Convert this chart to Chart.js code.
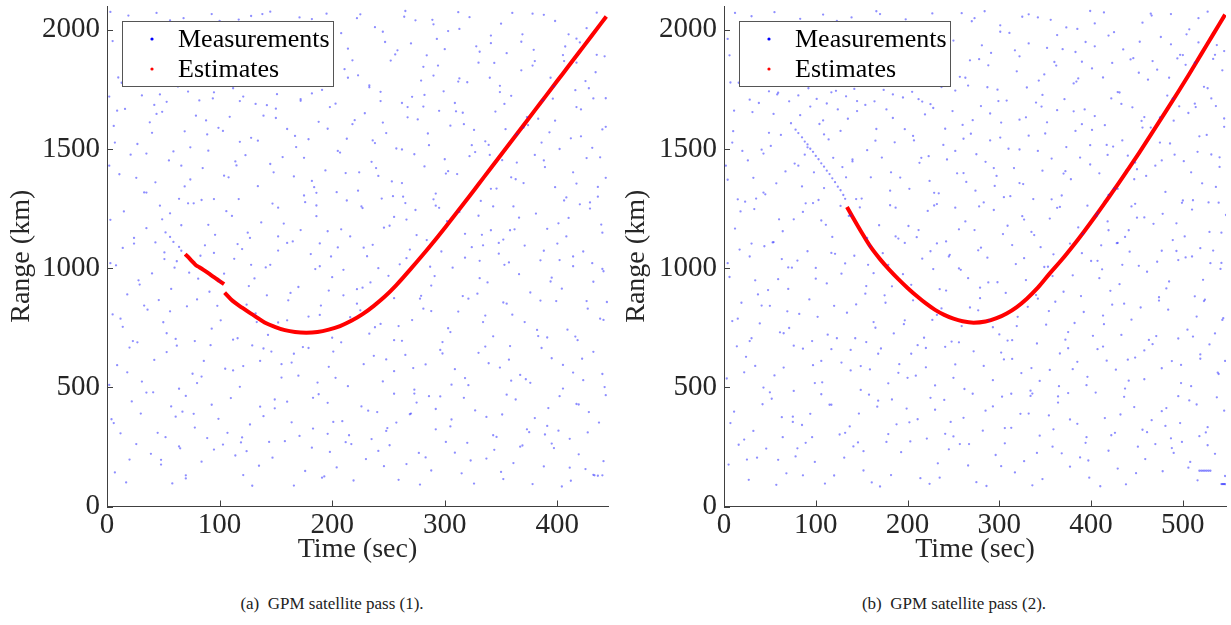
<!DOCTYPE html>
<html>
<head>
<meta charset="utf-8">
<script src="https://cdn.jsdelivr.net/npm/chart.js@4.4.1/dist/chart.umd.min.js"></script>
<style>
  body { margin: 0; background: #fff; width: 1231px; height: 625px; overflow: hidden; position: relative; font-family: "Liberation Serif", "Times New Roman", serif; }
  .panel { position: absolute; top: 0; }
  #p1 { left: 0; }
  #p2 { left: 615px; }
  .cap { position: absolute; top: 594px; font-size: 17px; color: #222; text-align: center; white-space: pre; }
</style>
</head>
<body>
<div class="panel" id="p1"><canvas id="c1" width="615" height="580"></canvas></div>
<div class="panel" id="p2"><canvas id="c2" width="616" height="580"></canvas></div>
<div class="cap" style="left:232px;width:200px">(a)  GPM satellite pass (1).</div>
<div class="cap" style="left:854px;width:200px">(b)  GPM satellite pass (2).</div>
<script>
// подписи
const seriesLabels = ['Measurements', 'Estimates'];
const xTitle = 'Time (sec)';
const yTitle = 'Range (km)';
const yTicks = [0, 500, 1000, 1500, 2000];
const xTicks1 = [0, 100, 200, 300, 400];
const xTicks2 = [0, 100, 200, 300, 400, 500];

// оценки, проход 1 (null = разрыв трека)
const est1Time = [69.5, 72, 75, 77, 79, 82, 86, 90, 95, 100, 104, 104.3, 104.5, 110, 120, 131, 140, 149, 158, 167, 177, 187, 197, 207, 217, 227, 237, 247, 257, 270, 280, 290, 300, 310, 320, 330, 340, 350, 360, 370, 380, 390, 400, 410, 420, 430, 443.5];
const est1Range = [1059, 1047, 1032, 1022, 1012, 1004, 992, 979, 962, 946, 933, null, 897, 870, 834, 800, 772, 754, 740, 732, 729, 732, 742, 757, 779, 807, 842, 882, 929, 998, 1053, 1110, 1169, 1229, 1290, 1352, 1414, 1476, 1538, 1600, 1662, 1724, 1786, 1848, 1910, 1972, 2056];

// оценки, проход 2
const est2Time = [134, 140, 150, 160, 170, 180, 190, 200, 210, 220, 230, 240, 250, 260, 272, 285, 297, 308, 319, 330, 342, 355, 368, 380, 392, 405, 417, 428, 440, 452, 465, 483, 495, 507, 520, 533, 546];
const est2Range = [1257, 1216, 1150, 1088, 1038, 994, 954, 917, 883, 852, 825, 804, 788, 777, 771, 776, 790, 810, 837, 872, 918, 978, 1035, 1092, 1152, 1220, 1285, 1345, 1413, 1482, 1559, 1667, 1740, 1815, 1898, 1981, 2064];

// измерения (помехи), проход 1: [время, дальность]
const meas1 = [
  [7,143],[39,221],[58,97],[84,188],[103,260],[121,132],[147,205],[166,88],[182,247],[204,164],[219,109],[241,233],[266,178],[278,92],[301,271],[315,139],[337,201],[352,115],[369,256],[388,168],[404,84],[419,219],[433,131],[26,262],[70,118],[95,239],[135,171],[158,274],[193,126],[230,199],[251,257],[288,151],[326,96],[344,238],[361,182],[395,264],[412,108],[441,190],[17,101],[48,176],[114,214],[176,149],[212,270],[259,112],[309,226],[378,94],[425,157],[440,131],[432,133],[436,129],[64,252],[129,87],[198,229],[283,206],[350,145],
  [4,366],[22,441],[45,309],[67,398],[89,287],[110,455],[127,344],[149,412],[171,296],[188,471],[209,358],[226,420],[248,317],[269,387],[286,463],[305,336],[327,403],[346,292],[363,449],[380,371],[401,318],[417,430],[437,352],[35,478],[78,331],[139,379],[196,435],[235,283],[292,409],[355,469],[389,302],[428,396],[12,307],[57,420],[99,368],[160,440],[215,299],[257,352],[317,456],[373,324],[443,467],[240,396],[120,290],[183,327],[337,376],[411,284],[70,464],[275,436],[30,390],
  [9,593],[31,524],[53,648],[76,557],[92,677],[118,502],[136,611],[155,541],[174,669],[197,586],[214,505],[237,632],[255,568],[273,490],[296,657],[318,539],[339,601],[358,673],[376,519],[395,622],[414,562],[432,649],[442,501],[20,667],[64,494],[105,578],[146,650],[187,520],[228,597],[265,636],[306,511],[349,583],[386,665],[423,530],[42,615],[84,545],[164,604],[245,525],[330,645],[405,495],[2,510],[129,676],[201,650],[283,596],[367,552],
  [14,754],[36,826],[61,703],[80,869],[101,781],[124,847],[143,720],[161,865],[179,797],[200,708],[222,851],[243,766],[262,695],[281,830],[303,748],[321,872],[343,714],[360,805],[382,741],[399,862],[418,698],[438,788],[27,689],[50,773],[71,840],[112,700],[152,772],[190,843],[233,725],[271,782],[312,818],[352,856],[391,709],[427,830],[5,806],[93,746],[216,794],[298,690],[371,774],[444,858],[132,810],[255,874],[334,774],[409,742],[46,866],
  [8,1012],[29,931],[51,1066],[73,981],[91,901],[113,1039],[131,957],[152,1074],[170,921],[189,1008],[210,886],[231,1050],[250,968],[269,1078],[288,927],[307,1002],[329,893],[348,1061],[366,975],[385,1033],[404,914],[423,1070],[441,987],[18,890],[62,1029],[100,947],[141,1003],[181,1059],[222,912],[260,1016],[297,1070],[338,940],[376,898],[414,1008],[40,978],[120,1080],[200,962],[279,884],[357,1024],[432,943],[83,1052],[163,896],[241,1000],[318,1044],[395,960],
  [52,1150],[56,1131],[59,1110],[64,1089],[66,1073],
  [3,1203],[24,1127],[47,1262],[66,1180],[87,1096],[106,1239],[125,1149],[147,1271],[165,1112],[186,1218],[205,1087],[227,1252],[246,1170],[265,1273],[284,1118],[302,1197],[324,1088],[343,1259],[362,1163],[381,1229],[400,1103],[420,1268],[439,1183],[14,1085],[56,1230],[96,1140],[137,1192],[176,1277],[216,1133],[255,1215],[292,1262],[333,1140],[371,1095],[410,1211],[35,1168],[116,1101],[196,1155],[274,1244],[352,1120],[429,1250],[77,1272],[157,1187],[236,1098],[313,1236],[391,1165],
  [11,1394],[33,1318],[55,1452],[74,1372],[95,1290],[115,1431],[134,1344],[156,1466],[175,1305],[194,1410],[213,1284],[235,1446],[253,1364],[273,1478],[292,1313],[311,1395],[332,1282],[351,1453],[370,1357],[389,1424],[408,1297],[426,1462],[443,1379],[21,1476],[64,1291],[104,1388],[145,1437],[184,1340],[224,1402],[263,1300],[300,1457],[341,1333],[380,1475],[417,1355],[43,1360],[123,1474],[204,1319],[282,1427],[359,1381],[436,1300],[85,1420],[166,1385],[244,1292],[322,1470],[398,1340],
  [6,1597],[27,1521],[49,1656],[69,1574],[90,1493],[109,1635],[128,1547],[150,1669],[168,1508],[188,1614],[207,1485],[229,1650],[248,1567],[267,1676],[286,1516],[305,1598],[327,1487],[345,1657],[364,1561],[383,1627],[402,1500],[421,1666],[440,1582],[16,1668],[59,1490],[99,1589],[139,1640],[179,1541],[218,1604],[257,1502],[295,1660],[336,1532],[374,1600],[412,1545],[38,1612],[118,1530],[198,1676],[276,1624],[354,1583],[431,1505],[79,1640],[160,1584],[238,1525],[316,1652],[393,1570],
  [10,1800],[31,1725],[53,1698],[72,1741],[94,1712],[112,1755],[132,1689],[151,1730],[172,1702],[191,1748],[211,1835],[233,1767],[252,1871],[271,1719],[290,1808],[309,1693],[330,1862],[349,1765],[368,1830],[387,1704],[406,1869],[425,1785],[443,1713],[2,1720],[63,1762],[142,1684],[223,1809],[262,1693],[299,1742],[340,1799],[378,1850],[416,1747],[42,1685],[121,1720],[203,1690],[281,1845],[359,1723],[434,1822],[82,1704],[182,1733],[243,1740],[320,1780],[397,1763],
  [5,1953],[19,2060],[44,2071],[68,2049],[93,2066],[117,2043],[145,2076],[171,2052],[195,2068],[214,1921],[238,2011],[256,1897],[274,2040],[293,1962],[312,2074],[331,1908],[350,2026],[369,1981],[388,2063],[407,1930],[426,2007],[442,1889],[225,2065],[247,1949],[265,2079],[284,1893],[303,1995],[322,2053],[341,1944],[360,2071],[379,1916],[398,2037],[417,1963],[435,2072],[208,1986],[290,2023],[355,1902],[3,2075],[128,2058],[56,2040],[182,2045],
  [213,1543],[77,389],[401,1188],[156,1921],[298,642],[35,1317],[367,251],[189,804],[432,1712],[95,1064],[262,1498],[18,563],[341,1976],[124,232],[275,1139],[59,1829],[416,713],[201,355],[317,1604],[142,886],[388,1452],[3,1021],[246,169],[108,1381],[359,528],[179,2030],[291,967],[44,1647],[427,311],[133,774],[226,1259],[380,1869],[70,131],[303,1407],[166,641],[440,997],[13,1778],[255,473],[334,1096],[89,1561],[197,906],[410,1981],[121,589],[282,1727],[52,291],[346,1334],[238,752],[392,413],[15,1238],[175,1463],[323,193],[101,1897],[266,1042],[421,1553],[62,675],[208,1163],[355,851],[138,2066],[292,324],[28,949],[373,1634],[149,449],[245,1992],[405,594],[84,1286],[312,1783],[191,121],[436,1341],[41,479],[220,1621],[331,1031],[116,706],[270,1943],[397,245],[160,1106],[7,1527],[353,1689],[232,402],[75,1818],[309,576],[182,1366],[426,862],[128,1014],[277,225],[49,1205],[388,1073],[214,1799],[144,271],[340,1475],[98,842],[254,1302],[417,1862],[23,694],[300,1919],[170,549],[366,1212],[66,1430],[234,940],[411,163],[118,1701],[288,820],[38,2019],[351,386],[199,1049],[443,1593],[86,611],[262,1357],[134,1535],[318,1144],[57,913],[383,715],[222,2049],[152,1254],[296,462],[9,1661],[344,1861],[248,617],[107,309],[429,1276],[185,996],[326,1580],[71,1931],[239,1420],[372,534],[127,1127],[281,1678],[33,843],[402,1034],[164,353],[313,2004],[90,1182],[259,757],[419,428],[205,1492],[361,1259],[47,1729],[139,663],[285,1565],[394,1799],[20,197],[228,1086],[336,671],[114,1448],[270,390],[408,1133],[172,1709],[60,1002],[320,267],[196,1585],[441,783],[100,2037],[251,1178],[368,1950],[26,1379],[145,1014],[305,732],[80,518],[414,1402],[217,262],[349,1739],[131,1802],[272,581],[43,1108],[386,1527],[183,456],[330,1220],[104,977],[243,1701],[431,1021],[65,244],[294,1850],[160,781],[375,312],[2,1430],[223,1325],[339,1517],[112,571],[264,2055],[398,1619],[53,727],[186,1263],[316,883],[95,1738],[249,329],[422,620],[148,1402],[287,1006],[31,1953],[358,1159],[208,689],[435,1895],[74,1507],[321,509],[172,1160],[394,944],[123,1996],[267,1633],[12,788],[343,299],[236,1536],[406,1284],[81,956],[301,1397],[155,597],[378,2068],[40,1568],[218,1872],[336,801],[117,1290],[255,698],[428,1755],[61,377],[310,1658],[189,1104],[353,1014],[136,419],[279,1787],[24,1103],[402,463],[227,918],[88,1620],[364,1443],[170,1997],[295,1253],[48,196],[414,1049],[241,1387],[126,925],[328,1931],[196,305],[385,864],[69,1343],[258,1914],[438,1465],[150,1630],[306,365],[18,1862],[370,1590],[203,540],[111,1219],[278,872],[417,1676],[56,819],[348,1106],[233,1759],[93,427],[324,1516],[179,665],[440,1149],[35,1481],[266,1204],[130,1849],[391,338],[212,1399],[289,2042],[78,694],[357,616],[152,1133],[420,1947],[6,350],[245,1611],[331,958],[103,1576],[273,474],[396,1711],[186,1316],[51,1038],[313,1796],[225,823],[363,1373],[119,269],[440,556],[290,1289],[167,1555],[29,2009],[341,1159],[210,993],[405,1894],[72,1272]
];

// измерения (помехи), проход 2
const meas2 = [
  [5,176],[27,112],[46,243],[68,139],[89,267],[110,96],[131,205],[152,151],[170,84],[193,228],[214,119],[233,181],[257,262],[275,102],[296,216],[317,143],[336,89],[358,251],[377,167],[398,121],[419,234],[438,93],[459,199],[478,148],[499,271],[516,110],[535,221],[16,259],[57,91],[99,187],[141,252],[182,132],[224,95],[266,172],[306,265],[347,115],[388,206],[429,159],[470,262],[508,187],[546,128],[36,205],[120,130],[203,273],[286,86],[368,223],[449,140],[527,257],[78,210],[161,101],[245,240],[327,190],[410,85],[490,225],
  [518,150],[520,150],[522,150],[524,150],[526,150],[528,150],[530,150],[542,94],[543,94],[544,94],[545,94],[546,94],
  [11,398],[32,317],[52,452],[75,355],[96,291],[117,427],[137,336],[158,469],[179,304],[199,411],[221,285],[240,447],[261,372],[282,318],[303,461],[323,389],[344,297],[364,436],[385,347],[405,478],[426,309],[447,417],[466,362],[487,286],[507,445],[527,333],[545,402],[22,281],[63,375],[106,471],[147,390],[188,345],[230,406],[271,473],[313,330],[354,382],[395,291],[436,460],[477,400],[518,295],[42,429],[126,302],[211,366],[293,420],[375,476],[456,322],[537,458],[85,342],[168,444],[250,294],[334,464],[415,371],[497,350],
  [3,537],[24,628],[43,499],[65,583],[86,662],[107,521],[128,604],[149,489],[168,641],[190,561],[211,677],[230,508],[252,596],[272,651],[293,530],[314,619],[334,486],[355,573],[375,664],[396,544],[417,612],[437,495],[458,655],[477,580],[498,518],[519,638],[538,562],[14,672],[55,550],[97,593],[138,657],[179,517],[220,584],[262,493],[302,646],[344,527],[385,607],[427,574],[467,681],[509,505],[546,611],[34,590],[117,660],[200,540],[283,590],[365,505],[448,625],[529,680],[76,485],[159,575],[241,670],[324,560],[407,660],[488,610],
  [9,778],[30,706],[50,842],[71,749],[93,869],[113,721],[134,813],[155,690],[176,855],[196,765],[218,708],[237,831],[259,757],[279,874],[300,722],[320,796],[341,684],[361,859],[382,770],[402,716],[423,847],[444,784],[463,699],[484,826],[505,742],[524,868],[544,790],[19,855],[61,731],[102,796],[144,848],[185,726],[227,783],[268,835],[309,696],[351,763],[392,816],[433,720],[474,878],[515,797],[39,768],[123,706],[206,865],[289,781],[372,700],[454,835],[535,726],[82,808],[165,750],[248,692],[331,838],[414,765],[495,705],
  [6,963],[28,1049],[48,908],[70,1003],[91,1071],[112,936],[132,1020],[154,893],[173,1063],[195,975],[216,1040],[235,912],[256,999],[277,1075],[298,941],[318,1017],[340,887],[359,1058],[380,970],[400,1030],[421,905],[442,1069],[461,985],[482,915],[503,1045],[522,951],[542,1022],[17,1078],[59,954],[100,1001],[142,1052],[183,924],[225,1071],[266,958],[307,896],[349,1005],[390,1063],[431,933],[472,1027],[513,882],[37,890],[121,1060],[204,930],[287,1044],[370,901],[452,1010],[533,1074],[80,1032],[163,979],[246,1056],[329,950],[412,995],[493,1072],
  [12,1166],[33,1248],[54,1109],[76,1205],[97,1273],[118,1131],[138,1221],[159,1092],[181,1264],[201,1177],[222,1240],[242,1112],[263,1196],[283,1276],[304,1143],[325,1218],[345,1088],[366,1257],[386,1171],[407,1232],[428,1105],[448,1270],[468,1186],[489,1118],[510,1246],[529,1152],[547,1223],[23,1279],[64,1155],[106,1200],[148,1255],[190,1124],[232,1269],[273,1160],[314,1097],[355,1208],[396,1262],[437,1131],[478,1228],[519,1084],[44,1092],[127,1261],[210,1130],[294,1244],[377,1103],[458,1213],[539,1275],[86,1236],[169,1180],[252,1254],[335,1152],[418,1196],[499,1274],
  [78,1581],[81,1567],[85,1549],[88,1531],[91,1519],[94,1501],[97,1488],[100,1471],[103,1457],[106,1440],[109,1426],[112,1409],[115,1395],[118,1377],[121,1361],[124,1342],[127,1327],[130,1307],[132,1291],
  [4,1371],[26,1452],[45,1310],[67,1406],[88,1476],[109,1336],[129,1424],[150,1292],[172,1464],[192,1380],[213,1442],[234,1314],[254,1398],[275,1478],[295,1345],[316,1420],[337,1290],[357,1460],[378,1373],[399,1435],[419,1307],[440,1472],[460,1387],[481,1320],[501,1449],[521,1356],[540,1425],[15,1289],[57,1356],[98,1402],[140,1456],[181,1325],[223,1470],[264,1362],[305,1298],[347,1409],[388,1464],[429,1333],[470,1430],[511,1285],[35,1292],[119,1463],[202,1333],[285,1446],[368,1305],[450,1415],[531,1477],[77,1439],[160,1381],[243,1456],[326,1353],[409,1398],[491,1476],
  [10,1575],[31,1655],[51,1513],[73,1608],[94,1678],[114,1540],[135,1627],[156,1495],[177,1666],[197,1583],[219,1645],[239,1517],[260,1601],[280,1680],[301,1548],[322,1623],[342,1492],[363,1663],[383,1576],[404,1638],[424,1510],[445,1675],[465,1590],[486,1523],[506,1651],[526,1559],[545,1628],[20,1492],[62,1559],[104,1605],[145,1659],[186,1528],[228,1672],[269,1564],[310,1501],[352,1612],[393,1666],[434,1536],[475,1633],[516,1488],[41,1497],[124,1666],[207,1536],[290,1649],[373,1508],[455,1618],[536,1680],[83,1642],[166,1584],[249,1659],[332,1556],[415,1600],[496,1679],
  [7,1779],[28,1707],[49,1742],[71,1700],[92,1755],[112,1691],[133,1721],[154,1685],[174,1748],[195,1716],[216,1699],[237,1760],[257,1803],[278,1877],[298,1749],[319,1826],[340,1695],[360,1865],[381,1775],[401,1838],[422,1712],[443,1876],[462,1791],[483,1724],[503,1853],[523,1761],[543,1830],[18,1868],[59,1736],[101,1710],[142,1752],[184,1729],[225,1688],[266,1766],[308,1703],[349,1813],[390,1866],[431,1737],[472,1833],[513,1690],[38,1693],[122,1744],[205,1740],[288,1851],[371,1709],[452,1820],[533,1878],[81,1725],[164,1700],[252,1745],[330,1758],[413,1800],[494,1880],
  [4,1962],[12,2071],[30,2057],[55,2074],[83,2046],[108,2064],[139,2052],[166,2078],[198,2044],[227,2069],[250,1955],[270,2036],[291,1903],[311,1987],[332,2065],[352,1924],[373,2010],[394,1949],[414,2073],[435,1918],[456,2030],[476,1970],[497,1895],[517,2049],[537,1936],[259,2070],[281,1935],[301,2019],[322,1889],[342,2052],[363,1978],[383,1907],[404,2027],[425,1990],[446,1881],[466,2060],[487,1939],[507,2002],[527,2076],[545,1911],[6,1893],[284,2078],[399,2079],[487,2066],
  [261,1543],[94,389],[493,1188],[192,1921],[366,642],[43,1317],[451,251],[232,804],[531,1712],[117,1064],[322,1498],[22,563],[419,1976],[152,232],[338,1139],[73,1829],[511,713],[247,355],[390,1604],[175,886],[477,1452],[4,1021],[302,169],[133,1381],[441,528],[220,2030],[358,967],[54,1647],[525,311],[163,774],[278,1259],[467,1869],[86,131],[372,1407],[204,641],[541,997],[16,1778],[313,473],[411,1096],[109,1561],[242,906],[504,1981],[149,589],[347,1727],[64,291],[425,1334],[293,752],[482,413],[18,1238],[215,1463],[397,193],[124,1897],[327,1042],[518,1553],[76,675],[256,1163],[436,851],[170,2066],[359,324],[34,949],[458,1634],[183,449],[301,1992],[498,594],[103,1286],[384,1783],[235,121],[536,1341],[50,479],[271,1621],[407,1031],[143,706],[332,1943],[488,245],[197,1106],[9,1527],[433,1689],[285,402],[92,1818],[380,576],[224,1366],[523,862],[157,1014],[341,225],[60,1205],[477,1073],[263,1799],[177,271],[418,1475],[120,842],[312,1302],[513,1862],[28,694],[369,1919],[209,549],[450,1212],[81,1430],[288,940],[506,163],[145,1701],[354,820],[47,2019],[432,386],[245,1049],[545,1593],[106,611],[322,1357],[165,1535],[391,1144],[70,913],[471,715],[273,2049],[187,1254],[364,462],[11,1661],[423,1861],[305,617],[132,309],[528,1276],[228,996],[401,1580],[87,1931],[294,1420],[458,534],[156,1127],[346,1678],[41,843],[495,1034],[202,353],[385,2004],[111,1182],[319,757],[515,428],[252,1492],[444,1259],[58,1729],[171,663],[350,1565],[485,1799],[25,197],[280,1086],[413,671],[140,1448],[332,390],[502,1133],[212,1709],[74,1002],[394,267],[241,1585],[543,783],[123,2037],[309,1178],[453,1950],[32,1379],[179,1014],[375,732],[99,518],[509,1402],[267,262],[429,1739],[161,1802],[335,581],[53,1108],[475,1527],[225,456],[406,1220],[128,977],[299,1701],[530,1021],[80,244],[362,1850],[197,781],[461,312],[2,1430],[274,1325],[417,1517],[138,571],[325,2055],[490,1619],[65,727],[229,1263],[389,883],[117,1738],[306,329],[519,620],[182,1402],[353,1006],[38,1953],[441,1159],[256,689],[535,1895],[91,1507],[395,509],[212,1160],[485,944],[151,1996],[329,1633],[15,788],[422,299],[290,1536],[500,1284],[100,956],[370,1397],[191,597],[465,2068],[49,1568],[268,1872],[413,801],[144,1290],[314,698],[527,1755],[75,377],[381,1658],[232,1104],[434,1014],[167,419],[343,1787],[30,1103],[495,463],[279,918],[108,1620],[448,1443],[209,1997],[363,1253],[59,196],[510,1049],[297,1387],[155,925],[404,1931],[241,305],[474,864],[85,1343],[317,1914],[540,1465],[184,1630],[377,365],[22,1862],[456,1590],[250,540],[136,1219],[342,872],[514,1676],[69,819],[429,1106],[287,1759],[115,427],[399,1516],[220,665],[542,1149],[43,1481],[327,1204],[160,1849],[481,338],[261,1399],[356,2042],[96,694],[440,616],[187,1133],[517,1947],[7,350],[302,1611],[409,958],[127,1576],[336,474],[489,1711],[229,1316],[63,1038],[386,1796],[277,823],[447,1373],[146,269],[539,556],[357,1289],[206,1555],[36,2009],[419,1159],[258,993],[500,1894],[89,1272]
];

const FONT = '"Liberation Serif", "Times New Roman", serif';
const TXT = '#262626';
const AXIS = '#404040';

// засечки внутрь (как в MATLAB) и легенда в рамке
const matlabStyle = {
  id: 'matlabStyle',
  afterDatasetsDraw(chart) {
    const { ctx, chartArea: a, scales: { x, y } } = chart;
    ctx.save();
    ctx.strokeStyle = AXIS;
    ctx.lineWidth = 1;
    ctx.beginPath();
    x.ticks.forEach(t => {
      const px = Math.round(x.getPixelForValue(t.value)) + 0.5;
      ctx.moveTo(px, a.bottom);
      ctx.lineTo(px, a.bottom - 6);
    });
    y.ticks.forEach(t => {
      const py = Math.round(y.getPixelForValue(t.value)) + 0.5;
      ctx.moveTo(a.left, py);
      ctx.lineTo(a.left + 6, py);
    });
    ctx.stroke();

    // легенда
    const bx = Math.round(a.left) + 15, by = Math.round(a.top) + 15, bw = 211, bh = 65;
    ctx.fillStyle = '#fff';
    ctx.fillRect(bx, by, bw, bh);
    ctx.strokeStyle = '#555';
    ctx.strokeRect(bx + 0.5, by + 0.5, bw, bh);
    ctx.font = '26px ' + FONT;
    ctx.textBaseline = 'middle';
    chart.data.datasets.forEach((ds, i) => {
      const cy = by + 18 + i * 30;
      ctx.fillStyle = ds.legendColor;
      ctx.beginPath();
      ctx.arc(bx + 30, cy, 1.6, 0, Math.PI * 2);
      ctx.fill();
      ctx.fillStyle = '#000';
      ctx.fillText(ds.label, bx + 56, cy + 1);
    });
    ctx.restore();
  }
};

function buildChart(id, meas, estT, estR, xMax, xTickVals, yAxisWidth, padRight) {
  const ctx = document.getElementById(id).getContext('2d');
  return new Chart(ctx, {
    type: 'scatter',
    data: {
      datasets: [{
        label: seriesLabels[0],
        data: meas.map(p => ({ x: p[0], y: p[1] })),
        pointRadius: 1.15,
        pointHoverRadius: 1.15,
        borderWidth: 0,
        backgroundColor: 'rgba(30,30,255,0.5)',
        legendColor: '#0000ff'
      }, {
        label: seriesLabels[1],
        data: estT.map((t, i) => ({ x: t, y: estR[i] })),
        showLine: true,
        spanGaps: false,
        cubicInterpolationMode: 'monotone',
        borderColor: '#ff0000',
        borderWidth: 4,
        pointRadius: 0,
        legendColor: '#ff0000'
      }]
    },
    options: {
      responsive: false,
      animation: false,
      events: [],
      layout: { padding: { left: 0, right: padRight, top: 6, bottom: 0 } },
      plugins: { legend: { display: false }, tooltip: { enabled: false } },
      scales: {
        x: {
          type: 'linear', min: 0, max: xMax,
          afterFit: s => { s.height = 73.5; s.paddingLeft = 0; s.paddingRight = 0; },
          afterBuildTicks: s => { s.ticks = xTickVals.map(v => ({ value: v })); },
          grid: { display: false, drawTicks: false },
          border: { display: true, color: AXIS, width: 1 },
          ticks: { padding: 1, color: TXT, font: { family: FONT, size: 29 }, maxRotation: 0, callback: v => String(v) },
          title: { display: true, text: xTitle, color: TXT, font: { family: FONT, size: 28 }, padding: { top: 0, bottom: 14 } }
        },
        y: {
          type: 'linear', min: 0, max: 2100,
          afterFit: s => { s.width = yAxisWidth; s.paddingTop = 0; s.paddingBottom = 0; },
          afterBuildTicks: s => { s.ticks = yTicks.map(v => ({ value: v })); },
          grid: { display: false, drawTicks: false },
          border: { display: true, color: AXIS, width: 1 },
          ticks: { padding: 7, color: TXT, font: { family: FONT, size: 29 }, callback: v => String(v) },
          title: { display: true, text: yTitle, color: TXT, font: { family: FONT, size: 28 }, padding: { top: 5, bottom: 0 } }
        }
      }
    },
    plugins: [matlabStyle]
  });
}

buildChart('c1', meas1, est1Time, est1Range, 445, xTicks1, 107, 7);
buildChart('c2', meas2, est2Time, est2Range, 547, xTicks2, 109, 5);
</script>
</body>
</html>
